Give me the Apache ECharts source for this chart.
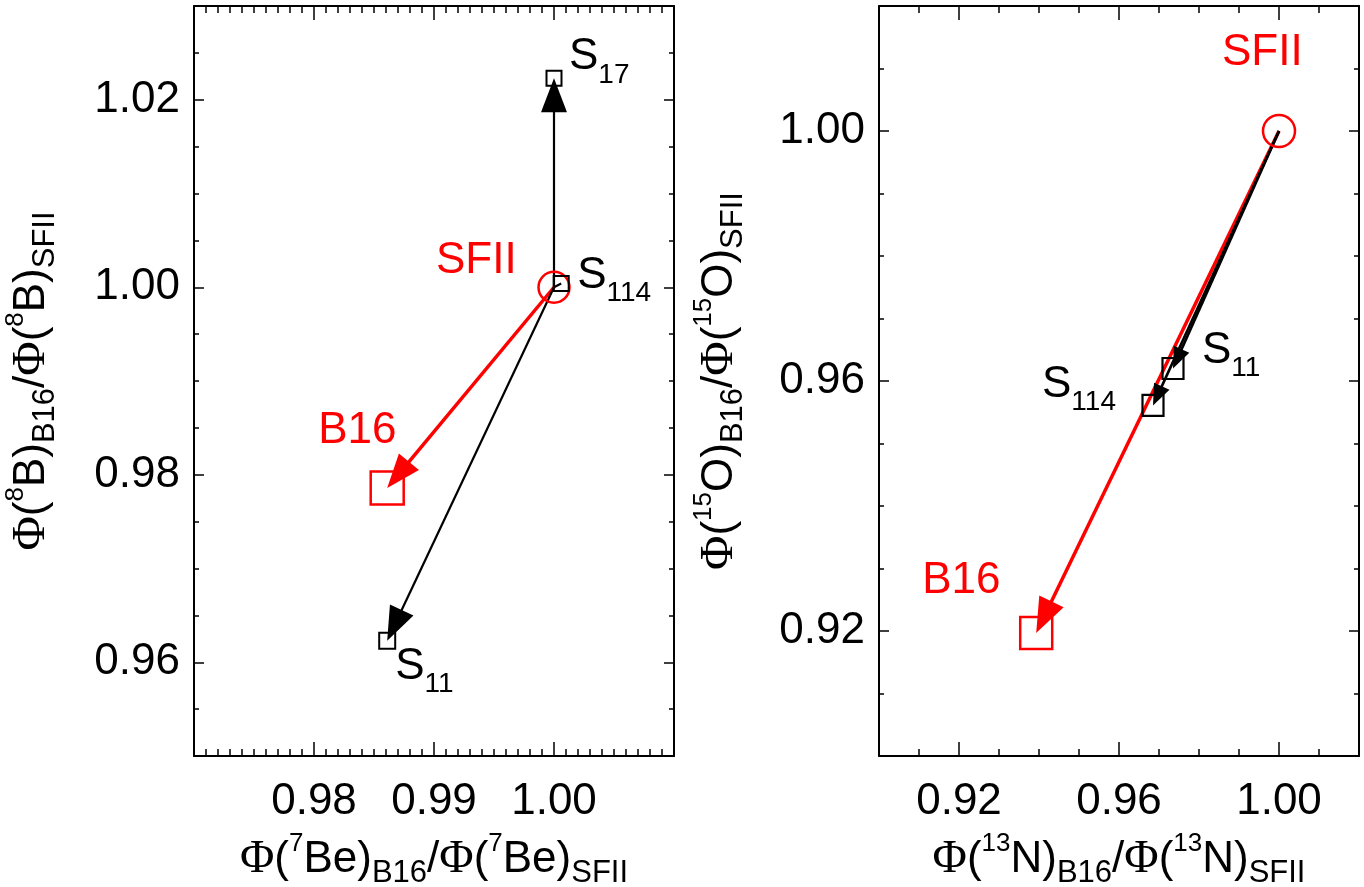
<!DOCTYPE html>
<html>
<head>
<meta charset="utf-8">
<title>Neutrino flux ratios B16 / SFII</title>
<script src="https://cdn.jsdelivr.net/npm/echarts@6/dist/echarts.min.js"></script>
<style>
  html, body { margin: 0; padding: 0; background: #fff; }
  #chart { width: 1364px; height: 887px; }
</style>
</head>
<body>
<div id="chart"></div>
<script>
// Left panel: 7Be and 8B flux ratios, SFII reference, B16 and the S-factor shifts
const leftNames = ['SFII', 'B16', 'S17', 'S114', 'S11'];
const be7Ratio = [1.000, 0.9861, 1.000, 1.0006, 0.9861];
const b8Ratio  = [1.000, 0.9786, 1.0223, 1.0004, 0.9623];

// Right panel: 13N and 15O flux ratios
const rightNames = ['SFII', 'B16', 'S11', 'S114'];
const n13Ratio = [1.000, 0.9393, 0.9735, 0.9685];
const o15Ratio = [1.000, 0.9197, 0.9620, 0.9561];

// Labelled (major) tick values
const be7Ticks = [0.98, 0.99, 1.00];
const b8Ticks  = [0.96, 0.98, 1.00, 1.02];
const n13Ticks = [0.92, 0.96, 1.00];
const o15Ticks = [0.92, 0.96, 1.00];

const SANS = "'Liberation Sans', Arial, Helvetica, sans-serif";
const SERIF = "'Liberation Serif', 'Times New Roman', serif";
const RED = '#ff0000';
const BLACK = '#000000';

const chart = echarts.init(document.getElementById('chart'), null, { renderer: 'canvas' });

const panels = {
  left:  { left: 194, top: 6, width: 480, height: 750,
           x: { min: 0.97, max: 1.01, minor: 0.001 }, y: { min: 0.95, max: 1.03, minor: 0.005 } },
  right: { left: 879, top: 6, width: 480, height: 750,
           x: { min: 0.90, max: 1.02, minor: 0.01 }, y: { min: 0.90, max: 1.02, minor: 0.01 } }
};

// Axis title pieces: Φ(^iso)_{B16}/Φ(^iso)_{SFII}
function fluxTitle(mass, element) {
  return '{phi|Φ}{m|(}{sup|' + mass + '}{m|' + element + ')}{sub|B16}{m|/}' +
         '{phi|Φ}{m|(}{sup|' + mass + '}{m|' + element + ')}{sub|SFII}';
}
const titleRich = {
  phi: { fontFamily: SERIF, fontSize: 47, lineHeight: 58, color: BLACK },
  m:   { fontFamily: SANS, fontSize: 44, lineHeight: 58, color: BLACK },
  sup: { fontFamily: SANS, fontSize: 26, lineHeight: 26, verticalAlign: 'top', color: BLACK },
  sub: { fontFamily: SANS, fontSize: 31, lineHeight: 40, verticalAlign: 'bottom', color: BLACK }
};

function majorAxis(grid, pos, range, ticks, tickLen, labelled, name, nameGap) {
  return {
    type: 'value', gridIndex: grid, position: pos,
    min: range.min, max: range.max,
    axisLine: { show: true, onZero: false, lineStyle: { color: BLACK, width: 2 } },
    axisTick: { show: true, inside: true, length: tickLen, customValues: ticks,
                lineStyle: { color: BLACK, width: 1.5 } },
    axisLabel: { show: labelled, customValues: ticks, formatter: v => v.toFixed(2),
                 fontFamily: SANS, fontSize: 44, color: BLACK,
                 margin: (pos === 'bottom') ? 24 : 14 },
    splitLine: { show: false },
    minorTick: { show: false },
    name: labelled ? name : '',
    nameLocation: 'middle',
    nameGap: nameGap,
    nameTextStyle: { rich: titleRich, fontFamily: SANS, fontSize: 44, color: BLACK },
    silent: true
  };
}

function minorAxis(grid, pos, range, tickLen) {
  return {
    type: 'value', gridIndex: grid, position: pos,
    min: range.min, max: range.max, interval: range.minor,
    axisLine: { show: false, onZero: false },
    axisTick: { show: true, inside: true, length: tickLen, lineStyle: { color: BLACK, width: 1.5 } },
    axisLabel: { show: false },
    splitLine: { show: false },
    silent: true
  };
}

const grids = [];
const xAxes = [];
const yAxes = [];
// grid 0/2: labelled major axes, grid 1/3: minor tick axes laid over the same box
[
  { p: panels.left,  xt: be7Ticks, yt: b8Ticks,  xName: fluxTitle('7', 'Be'), yName: fluxTitle('8', 'B'),  yGap: 133 },
  { p: panels.right, xt: n13Ticks, yt: o15Ticks, xName: fluxTitle('13', 'N'), yName: fluxTitle('15', 'O'), yGap: 130 }
].forEach(function (cfg) {
  const box = { left: cfg.p.left, top: cfg.p.top, width: cfg.p.width, height: cfg.p.height,
                containLabel: false, outerBoundsMode: 'none' };
  const gMajor = grids.length;
  grids.push(Object.assign({}, box), Object.assign({}, box));
  const gMinor = gMajor + 1;
  xAxes.push(
    majorAxis(gMajor, 'bottom', cfg.p.x, cfg.xt, 14, true, cfg.xName, 75),
    majorAxis(gMajor, 'top', cfg.p.x, cfg.xt, 14, false, '', 0),
    minorAxis(gMinor, 'bottom', cfg.p.x, 7),
    minorAxis(gMinor, 'top', cfg.p.x, 7)
  );
  yAxes.push(
    majorAxis(gMajor, 'left', cfg.p.y, cfg.yt, 10, true, cfg.yName, cfg.yGap),
    majorAxis(gMajor, 'right', cfg.p.y, cfg.yt, 10, false, '', 0),
    minorAxis(gMinor, 'left', cfg.p.y, 5),
    minorAxis(gMinor, 'right', cfg.p.y, 5)
  );
});

// Arrows from the SFII point to every other point of a panel
function arrowData(names, xs, ys, wantRed) {
  const out = [];
  for (let i = 1; i < names.length; i++) {
    const isModel = names[i] === 'B16';
    if (isModel === wantRed) out.push([xs[0], ys[0], xs[i], ys[i]]);
  }
  return out;
}

function arrowSeries(axisIdx, data, color, width, headLen, headWid) {
  return {
    type: 'custom', coordinateSystem: 'cartesian2d',
    xAxisIndex: axisIdx, yAxisIndex: axisIdx,
    encode: { x: [0, 2], y: [1, 3] },
    data: data, silent: true, z: 3,
    renderItem: function (params, api) {
      const p0 = api.coord([api.value(0), api.value(1)]);
      const p1 = api.coord([api.value(2), api.value(3)]);
      const dx = p1[0] - p0[0], dy = p1[1] - p0[1];
      const len = Math.hypot(dx, dy);
      if (len < headLen * 1.2) {
        return { type: 'line', shape: { x1: p0[0], y1: p0[1], x2: p1[0], y2: p1[1] },
                 style: { stroke: color, lineWidth: width } };
      }
      const ux = dx / len, uy = dy / len;
      const bx = p1[0] - ux * headLen, by = p1[1] - uy * headLen;
      const nx = -uy * headWid / 2, ny = ux * headWid / 2;
      return {
        type: 'group',
        children: [
          { type: 'line', shape: { x1: p0[0], y1: p0[1], x2: bx + ux * 2, y2: by + uy * 2 },
            style: { stroke: color, lineWidth: width } },
          { type: 'polygon', shape: { points: [[p1[0], p1[1]], [bx + nx, by + ny], [bx - nx, by - ny]] },
            style: { fill: color } }
        ]
      };
    }
  };
}

// Marker and label styling per point
const markStyle = {
  left: {
    SFII: { symbol: 'circle', size: 31, color: RED, bw: 2.5, off: [-118, -26] },
    B16:  { symbol: 'rect', size: 33, color: RED, bw: 2.5, off: [-69, -57] },
    S17:  { symbol: 'rect', size: 15, color: BLACK, bw: 2, off: [15, -21] },
    S114: { symbol: 'rect', size: 15, color: BLACK, bw: 2, off: [16, -8] },
    S11:  { symbol: 'rect', size: 16, color: BLACK, bw: 2, off: [8, 26] }
  },
  right: {
    SFII: { symbol: 'circle', size: 32, color: RED, bw: 2.5, off: [-57, -78] },
    B16:  { symbol: 'rect', size: 32, color: RED, bw: 2.5, off: [-114, -52] },
    S11:  { symbol: 'rect', size: 21, color: BLACK, bw: 2.2, off: [29, -18] },
    S114: { symbol: 'rect', size: 21, color: BLACK, bw: 2.2, off: [-111, -21] }
  }
};

const labelRich = {
  m:   { fontFamily: SANS, fontSize: 44, lineHeight: 64 },
  s:   { fontFamily: SANS, fontSize: 44, lineHeight: 64, color: BLACK },
  sub: { fontFamily: SANS, fontSize: 28, lineHeight: 28, verticalAlign: 'bottom', color: BLACK }
};

function pointSeries(axisIdx, panel, names, xs, ys) {
  return {
    type: 'scatter', xAxisIndex: axisIdx, yAxisIndex: axisIdx, z: 4,
    silent: true,
    itemStyle: { opacity: 1 },
    data: names.map(function (n, i) {
      const st = markStyle[panel][n];
      const isS = n.charAt(0) === 'S' && n !== 'SFII';
      return {
        name: n,
        value: [xs[i], ys[i]],
        symbol: st.symbol,
        symbolSize: st.size,
        itemStyle: { color: 'rgba(0,0,0,0)', opacity: 1, borderColor: st.color, borderWidth: st.bw },
        label: {
          show: true, position: 'inside', align: 'left', verticalAlign: 'middle',
          offset: st.off, color: st.color, opacity: 1, textBorderWidth: 0,
          formatter: isS ? '{s|S}{sub|' + n.slice(1) + '}' : '{m|' + n + '}',
          rich: labelRich
        }
      };
    })
  };
}

const option = {
  animation: false,
  backgroundColor: '#ffffff',
  grid: grids,
  xAxis: xAxes,
  yAxis: yAxes,
  series: [
    arrowSeries(0, arrowData(leftNames, be7Ratio, b8Ratio, true), RED, 3.5, 34, 26),
    arrowSeries(0, arrowData(leftNames, be7Ratio, b8Ratio, false), BLACK, 2.2, 34, 26),
    pointSeries(0, 'left', leftNames, be7Ratio, b8Ratio),
    arrowSeries(4, arrowData(rightNames, n13Ratio, o15Ratio, true), RED, 3.5, 35, 27),
    arrowSeries(4, arrowData(rightNames, n13Ratio, o15Ratio, false), BLACK, 2.6, 21, 17),
    pointSeries(4, 'right', rightNames, n13Ratio, o15Ratio)
  ]
};

chart.setOption(option);
</script>
</body>
</html>
